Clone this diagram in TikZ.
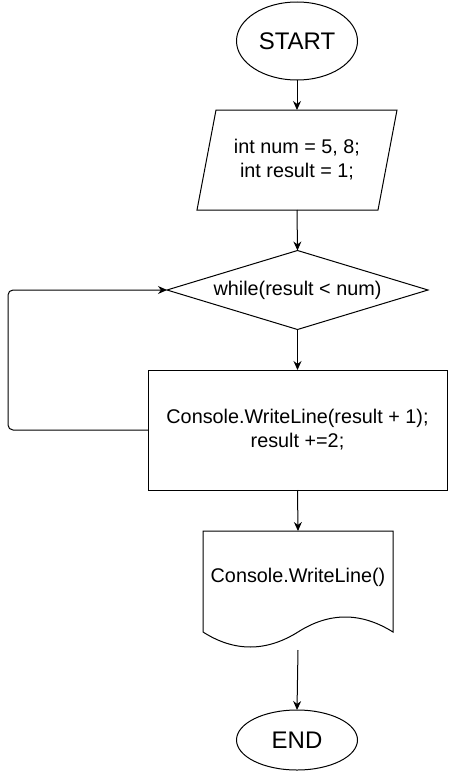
\documentclass[tikz,border=0pt]{standalone}
\usepackage{fontspec}
\setmainfont{Liberation Sans}
\usetikzlibrary{shapes.geometric,arrows.meta}
\begin{document}
\begin{tikzpicture}[x=1pt,y=-1pt,
  every node/.style={inner sep=0pt,outer sep=0pt},
  txt/.style={font=\fontsize{19.8}{24}\selectfont,align=center,text=black},
  big/.style={font=\fontsize{24}{28}\selectfont,text=black},
  term/.style={ellipse,draw,line width=1pt,minimum width=121pt},
  box/.style={rectangle,minimum width=#1},
  arr/.style={draw,line width=1pt,-{Stealth[length=9pt,width=8pt]}},
  shp/.style={draw,line width=1pt}]
\useasboundingbox (0,0) rectangle (448,771);
\fill[white] (0,0) rectangle (448,771);

% START
\node[term,minimum height=78pt,big] (start) at (297,41) {START};

% input parallelogram
\node[box=181pt,minimum height=100pt,txt] (input) at (297,160) {int num = 5, 8;\\int result = 1;};
\draw[shp] (216,110) -- (397,110) -- (378,210) -- (197,210) -- cycle;

% condition diamond
\node[box=261pt,minimum height=79pt,txt] (cond) at (297.5,290) {while(result {<} num)};
\draw[shp] (cond.north) -- (cond.east) -- (cond.south) -- (cond.west) -- cycle;

% body
\node[rectangle,draw,line width=1pt,minimum width=299pt,minimum height=120pt,txt] (body) at (297.5,430) {Console.WriteLine(result + 1);\\result +=2;};

% output document
\node[box=190pt,minimum height=119pt] (out) at (298,590.5) {};
\draw[shp] (203,632) -- (203,531) -- (393,531) -- (393,632)
  .. controls (361,612) and (329.3,612) .. (298,632)
  .. controls (266,652) and (234.3,652) .. (203,632);
\node[txt] (outlabel) at (298,577) {Console.WriteLine()};

% END
\node[term,minimum height=60pt,big] (end) at (297,740) {END};

% connectors
\draw[arr] (start.south) -- (input.north);
\draw[arr] (input.south) -- (cond.north);
\draw[arr] (cond.south) -- (body.north);
\draw[arr] (body.south) -- (out.north);
\draw[arr] (out.south) -- (end.north);
\draw[arr,rounded corners=5pt] (body.west) -- ++(-140,0) |- (cond.west);
\end{tikzpicture}
\end{document}
